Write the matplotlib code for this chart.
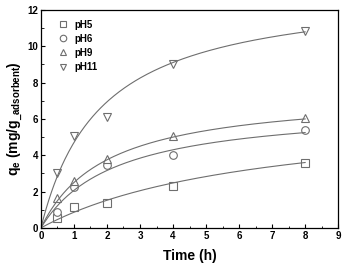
import numpy as np
import matplotlib
matplotlib.use("Agg")
import matplotlib.pyplot as plt
from matplotlib.ticker import MultipleLocator

plt.rcParams['font.family'] = ['Liberation Sans', 'DejaVu Sans']
plt.rcParams['font.weight'] = 'bold'

# measured points
time_h = [0.5, 1, 2, 4, 8]
q_ph5 = [0.55, 1.15, 1.35, 2.3, 3.6]
q_ph6 = [0.9, 2.25, 3.45, 4.0, 5.4]
q_ph9 = [1.65, 2.6, 3.8, 5.05, 6.05]
q_ph11 = [3.0, 5.05, 6.1, 9.05, 10.85]

labels = ['pH5', 'pH6', 'pH9', 'pH11']
markers = ['s', 'o', '^', 'v']

# pseudo-second-order fit parameters: qe, qe*k
fit_qe = [6.6, 6.73, 7.5, 13.25]
fit_a = [0.15, 0.443, 0.5, 0.55]

GRAY = '#6e6e6e'

fig = plt.figure(figsize=(3.44, 2.70), dpi=100)
ax = fig.add_axes([0.119, 0.156, 0.864, 0.807])

tt = np.linspace(0, 8, 200)
series = [q_ph5, q_ph6, q_ph9, q_ph11]
for q, lab, m, qe, a in zip(series, labels, markers, fit_qe, fit_a):
    ax.plot(time_h, q, linestyle='none', marker=m, ms=5.5, mfc='white',
            mec=GRAY, mew=0.8, label=lab)
    ax.plot(tt, qe * a * tt / (1 + a * tt), color=GRAY, lw=0.8)

ax.set_xlim(0, 9)
ax.set_ylim(0, 12)
ax.xaxis.set_major_locator(MultipleLocator(1))
ax.xaxis.set_minor_locator(MultipleLocator(0.5))
ax.yaxis.set_major_locator(MultipleLocator(2))
ax.yaxis.set_minor_locator(MultipleLocator(1))
ax.tick_params(which='both', direction='in', labelsize=7, pad=2)
ax.tick_params(which='major', length=3, width=0.8)
ax.tick_params(which='minor', length=1.8, width=0.6)
for s in ax.spines.values():
    s.set_linewidth(0.9)

ax.set_xlabel('Time (h)', fontsize=10, fontweight='bold', labelpad=6)
ax.set_ylabel(r'q$_\mathregular{e}$ (mg/g$_\mathregular{\_adsorbent}$)', fontsize=10,
              fontweight='bold', labelpad=2)

leg = ax.legend(loc='upper left', frameon=False, fontsize=7, handlelength=1.0,
                handletextpad=0.7, labelspacing=0.42, markerscale=0.85,
                borderaxespad=0.6, bbox_to_anchor=(0.025, 1.0))

fig.savefig('out.png', dpi=100)
